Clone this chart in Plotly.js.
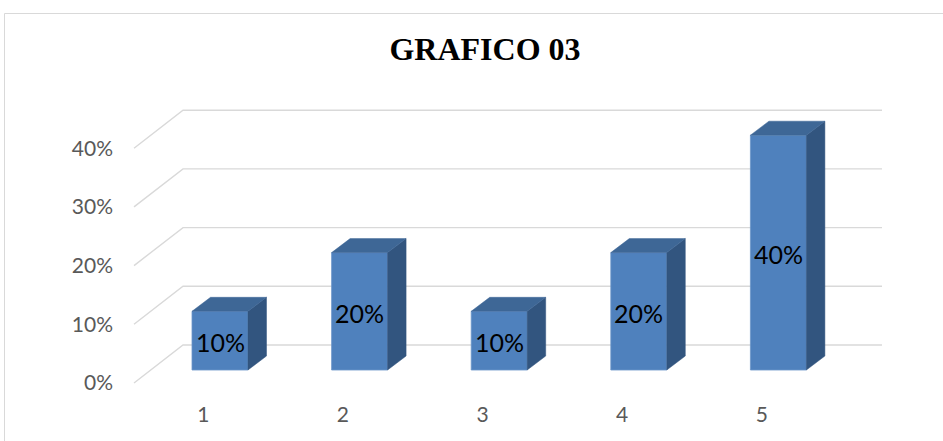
<!DOCTYPE html>
<html>
<head>
<meta charset="utf-8">
<script src="https://cdn.plot.ly/plotly-3.0.1.min.js"></script>
<style>html,body{margin:0;padding:0;background:#fff;}#chart{width:943px;height:441px;}</style>
</head>
<body>
<div id="chart"></div>
<script>
// ---- data ----
const categories = [1, 2, 3, 4, 5];
const categoryLabels = ["1", "2", "3", "4", "5"];
const values = [10, 20, 10, 20, 40];          // percent
const yTickValues = [0, 10, 20, 30, 40];
const yTickLabels = ["0%", "10%", "20%", "30%", "40%"];
const chartTitle = "GRAFICO 03";

// ---- 3D look geometry (axis units) ----
const barW = 0.401;        // bar width in category units
const depthX = 0.1325;     // bar depth offset, x (category units)
const depthY = 2.385;      // bar depth offset, y (percent units)
const floorFrontY = -2.215; // floor front edge offset
const wallBackY = 4.26;     // back wall offset
const floorFrontX = 0.384, wallBackX = 0.735, wallRightX = 5.742;

const cFront = '#4F81BD', cTop = '#3E6796', cSide = '#32557F';

// front faces
const frontTrace = {
  type: 'bar', x: categories, y: values, width: barW,
  marker: {color: cFront, line: {color: '#6B96C9', width: 0.8}},
  hoverinfo: 'skip', showlegend: false
};
// top & side faces
const topX = [], topY = [], sideX = [], sideY = [];
categories.forEach((c, i) => {
  const v = values[i], l = c - barW / 2, r = c + barW / 2;
  topX.push(l, r, r + depthX, l + depthX, l, null);
  topY.push(v, v, v + depthY, v + depthY, v, null);
  sideX.push(r, r + depthX, r + depthX, r, r, null);
  sideY.push(0, depthY, v + depthY, v, 0, null);
});
const topTrace = {type: 'scatter', mode: 'lines', x: topX, y: topY, fill: 'toself',
  fillcolor: cTop, line: {color: cTop, width: 0.5}, hoverinfo: 'skip', showlegend: false};
const sideTrace = {type: 'scatter', mode: 'lines', x: sideX, y: sideY, fill: 'toself',
  fillcolor: cSide, line: {color: cSide, width: 0.5}, hoverinfo: 'skip', showlegend: false};

// gridlines (floor-to-wall perspective)
const shapes = [];
yTickValues.forEach(t => {
  shapes.push({type: 'path', layer: 'below', xref: 'x', yref: 'y',
    path: `M ${floorFrontX},${t + floorFrontY} L ${wallBackX},${t + wallBackY} L ${wallRightX},${t + wallBackY}`,
    line: {color: '#D9D9D9', width: 1.4}});
});
// chart border
shapes.push({type: 'rect', xref: 'paper', yref: 'paper', layer: 'below',
  x0: (4.5 - 120) / 783, x1: 1.06, y0: -0.2, y1: (391 - 13.5) / 301,
  line: {color: '#D9D9D9', width: 1}, fillcolor: 'rgba(0,0,0,0)'});

const annotations = categories.map((c, i) => ({
  x: c, y: values[i] / 2 - 0.3, xref: 'x', yref: 'y', text: values[i] + '%',
  showarrow: false, font: {family: 'Lato, sans-serif', size: 25, color: '#000'},
  xanchor: 'center', yanchor: 'middle'
}));

const layout = {
  width: 943, height: 441,
  margin: {l: 120, r: 40, t: 90, b: 50},
  paper_bgcolor: '#fff', plot_bgcolor: 'rgba(0,0,0,0)',
  title: {text: chartTitle, x: 485 / 943, xanchor: 'center', xref: 'container',
    y: 1 - 49 / 441, yanchor: 'middle', yref: 'container',
    font: {family: 'Liberation Serif, serif', size: 32, weight: 'bold', color: '#000'}},
  xaxis: {range: [0.28367, 5.89255], showgrid: false, zeroline: false, showline: false,
    tickmode: 'array', tickvals: categories.map(c => c - depthX * 0.9), ticktext: categoryLabels,
    ticks: '', ticklabelstandoff: 9,
    tickfont: {family: 'Lato, sans-serif', size: 21, color: '#595959'}},
  yaxis: {range: [-3.5775, 47.700], showgrid: false, zeroline: false, showline: false,
    tickmode: 'array', tickvals: yTickValues.map(t => t + floorFrontY), ticktext: yTickLabels,
    ticks: '', ticklabelstandoff: 6,
    tickfont: {family: 'Lato, sans-serif', size: 21, color: '#595959'}},
  shapes: shapes, annotations: annotations, bargap: 0
};

Plotly.newPlot('chart', [sideTrace, topTrace, frontTrace], layout, {displayModeBar: false, staticPlot: true});
</script>
</body>
</html>
